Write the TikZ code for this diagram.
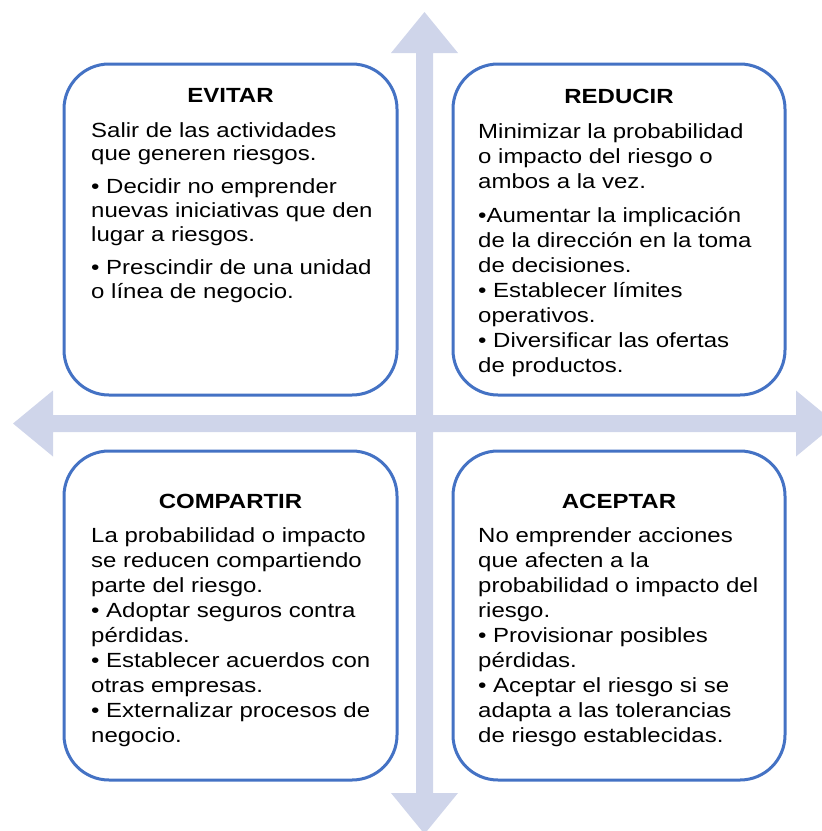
\documentclass[tikz,border=0pt]{standalone}
\usepackage{fontspec}
\setmainfont[FakeStretch=1.17]{Liberation Sans}
\definecolor{crossfill}{RGB}{207,213,234}
\definecolor{boxblue}{RGB}{68,114,196}
\tikzset{
  quad/.style={draw=boxblue, line width=3pt, rounded corners=45pt, fill=white},
  quadtext/.style={anchor=north west, inner sep=0pt, align=left, font=\fontsize{20.5}{25}\selectfont},
  quadtitle/.style={anchor=base, inner sep=0pt, font=\fontsize{20.5}{25}\selectfont\bfseries},
}
\begin{document}
\begin{tikzpicture}[x=1pt,y=-1pt]
\useasboundingbox (0,0) rectangle (822,831);
\begin{scope}
\clip (0,0) rectangle (822,831);
\fill[crossfill] (424.5,12) -- (458,53) -- (433,53) -- (433,415) -- (796,415) -- (796,390.5)
  -- (836,423.5) -- (796,456.5) -- (796,432) -- (433,432) -- (433,793) -- (458,793)
  -- (424.5,834) -- (391,793) -- (416,793) -- (416,432) -- (53,432) -- (53,456.5)
  -- (13,423.5) -- (53,390.5) -- (53,415) -- (416,415) -- (416,53) -- (391,53) -- cycle;
\end{scope}
% boxes
\draw[quad] (64,64) rectangle (397,395);
\draw[quad] (453,64) rectangle (785,395);
\draw[quad] (64,451) rectangle (397,780);
\draw[quad] (453,451) rectangle (785,780);
% titles
\node[quadtitle] (t1) at (230.5,102) {EVITAR};
\node[quadtitle] (t2) at (619,103) {REDUCIR};
\node[quadtitle] (t3) at (230.5,508) {COMPARTIR};
\node[quadtitle] (t4) at (619,508) {ACEPTAR};
% bodies
\node[quadtext, font=\fontsize{20.5}{23.7}\selectfont] (b1) at (91,122) {Salir de las actividades\\que generen riesgos.\\[9.5pt]
• Decidir no emprender\\nuevas iniciativas que den\\lugar a riesgos.\\[9.5pt]
• Prescindir de una unidad\\o línea de negocio.};
\node[quadtext] (b2) at (478,123) {Minimizar la probabilidad\\o impacto del riesgo o\\ambos a la vez.\\[9pt]
•Aumentar la implicación\\de la dirección en la toma\\de decisiones.\\
• Establecer límites\\operativos.\\
• Diversificar las ofertas\\de productos.};
\node[quadtext] (b3) at (91,527) {La probabilidad o impacto\\se reducen compartiendo\\parte del riesgo.\\
• Adoptar seguros contra\\pérdidas.\\
• Establecer acuerdos con\\otras empresas.\\
• Externalizar procesos de\\negocio.};
\node[quadtext] (b4) at (478,527) {No emprender acciones\\que afecten a la\\probabilidad o impacto del\\riesgo.\\
• Provisionar posibles\\pérdidas.\\
• Aceptar el riesgo si se\\adapta a las tolerancias\\de riesgo establecidas.};
\end{tikzpicture}
\end{document}
